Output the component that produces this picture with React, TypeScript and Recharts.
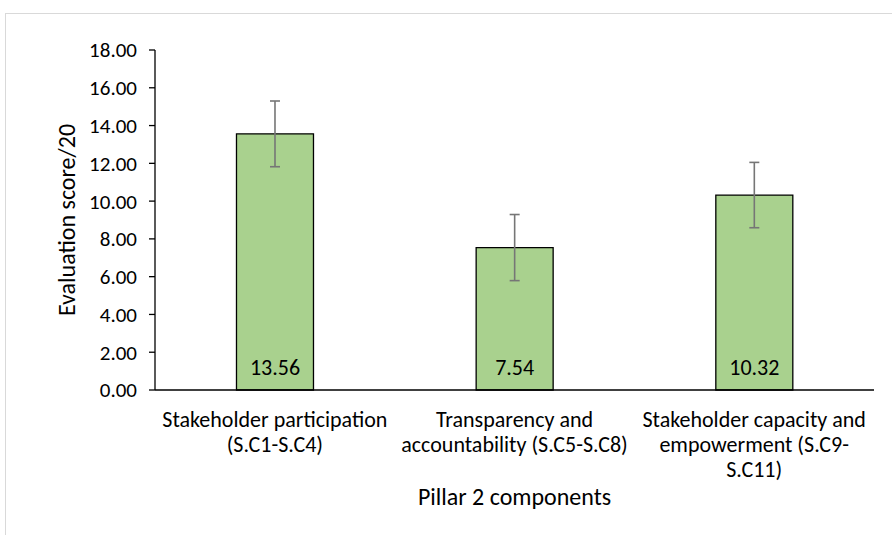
import React from "react";
import { BarChart, Bar, XAxis, YAxis, ErrorBar, LabelList } from "recharts";

const categories = [
  "Stakeholder participation (S.C1-S.C4)",
  "Transparency and accountability (S.C5-S.C8)",
  "Stakeholder capacity and empowerment (S.C9-S.C11)",
];
const categoryLines = [
  ["Stakeholder participation", "(S.C1-S.C4)"],
  ["Transparency and", "accountability (S.C5-S.C8)"],
  ["Stakeholder capacity and", "empowerment (S.C9-", "S.C11)"],
];
const scores = [13.56, 7.54, 10.32];
const errors = [1.74, 1.75, 1.73];
const yTicks = [0, 2, 4, 6, 8, 10, 12, 14, 16, 18];

const data = categories.map((c, i) => ({ name: c, idx: i, score: scores[i], err: errors[i] }));

const FONT = "Calibri, Carlito, Lato, 'Noto Sans', sans-serif";
const FS = 22;

const XTick = (props: any) => {
  const { x, y, payload } = props;
  const lines = categoryLines[payload.index] || [String(payload.value)];
  return (
    <g>
      {lines.map((ln: string, i: number) => (
        <text
          key={i}
          x={x}
          y={y + 29 + i * 25}
          textAnchor="middle"
          fontFamily={FONT}
          fontSize={FS}
          fill="#000"
        >
          {ln}
        </text>
      ))}
    </g>
  );
};

const XLabel = (props: any) => {
  const { viewBox } = props;
  const { x, y, width } = viewBox;
  return (
    <text x={x + width / 2} y={y + 115} textAnchor="middle" fontFamily={FONT} fontSize={24} fill="#000">
      Pillar 2 components
    </text>
  );
};

const YLabel = (props: any) => {
  const { viewBox } = props;
  const { y, height } = viewBox;
  const cx = 75;
  const cy = y + height / 2;
  return (
    <text
      x={cx}
      y={cy}
      transform={`rotate(-90, ${cx}, ${cy})`}
      textAnchor="middle"
      fontFamily={FONT}
      fontSize={24}
      fill="#000"
    >
      Evaluation score/20
    </text>
  );
};

const ValueLabel = (props: any) => {
  const { x, y, width, height, value } = props;
  return (
    <text
      x={x + width / 2}
      y={y + height - 15}
      textAnchor="middle"
      fontFamily={FONT}
      fontSize={FS}
      fill="#000"
    >
      {Number(value).toFixed(2)}
    </text>
  );
};

export default function App() {
  return (
    <div style={{ position: "absolute", left: 0, top: 0, width: 892, height: 535, background: "#fff" }}>
      <div
        style={{
          position: "absolute",
          left: 5,
          top: 13,
          width: 887,
          height: 522,
          borderLeft: "1px solid #d9d9d9",
          borderTop: "1px solid #d9d9d9",
          boxSizing: "border-box",
        }}
      />
      <div style={{ position: "absolute", left: 0, top: 0 }}>
        <BarChart
          width={892}
          height={535}
          data={data}
          margin={{ top: 50, right: 18, bottom: 0, left: 0 }}
          barCategoryGap="34%"
        >
          <XAxis
            dataKey="name"
            height={145}
            tickLine={false}
            axisLine={{ stroke: "#000", strokeWidth: 1.3 }}
            tick={<XTick />}
            interval={0}
            label={<XLabel />}
          />
          <YAxis
            width={155}
            domain={[0, 18]}
            ticks={yTicks}
            interval={0}
            tickFormatter={(v: number) => v.toFixed(2)}
            tickSize={6}
            tickMargin={12}
            tickLine={{ stroke: "#000", strokeWidth: 1.3 }}
            axisLine={{ stroke: "#000", strokeWidth: 1.3 }}
            tick={{ fontFamily: FONT, fontSize: 21, fill: "#000" }}
            label={<YLabel />}
          />
          <Bar dataKey="score" fill="#a9d18e" stroke="#000" strokeWidth={1.3} isAnimationActive={false}>
            <ErrorBar dataKey="err" width={5} stroke="#767676" strokeWidth={1.6} direction="y" />
            <LabelList dataKey="score" content={<ValueLabel />} />
          </Bar>
        </BarChart>
      </div>
    </div>
  );
}
